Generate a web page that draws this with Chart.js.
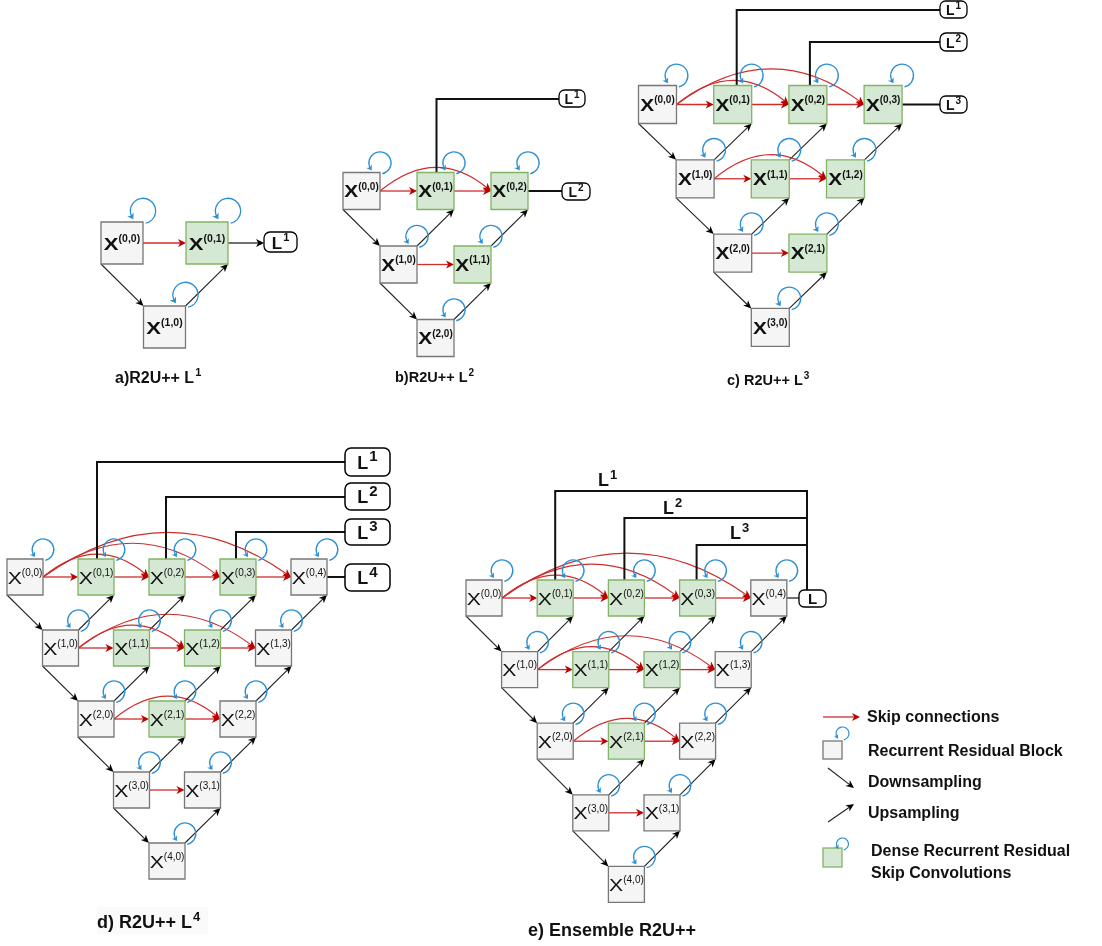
<!DOCTYPE html>
<html><head><meta charset="utf-8">
<script src="https://cdn.jsdelivr.net/npm/chart.js@4.4.1/dist/chart.umd.min.js"></script>
<style>html,body{margin:0;padding:0;background:#fff;}canvas{display:block;}</style>
</head><body>
<canvas id="c" width="1102" height="946"></canvas>
<script>
// ================= DATA =================
const diagramKeys = ['A','B','C','D','E'];
const captionTexts = ['a)R2U++ L', 'b)R2U++ L', 'c) R2U++ L', 'd) R2U++ L', 'e) Ensemble R2U++'];
const captionSups  = ['1', '2', '3', '4', ''];

// nodes X(i,j): plain recurrent residual blocks (gray) and dense skip convolutions (green)
const grayNodesA  = [[0,0],[1,0]];
const greenNodesA = [[0,1]];
const grayNodesB  = [[0,0],[1,0],[2,0]];
const greenNodesB = [[0,1],[0,2],[1,1]];
const grayNodesC  = [[0,0],[1,0],[2,0],[3,0]];
const greenNodesC = [[0,1],[0,2],[0,3],[1,1],[1,2],[2,1]];
const grayNodesD  = [[0,0],[1,0],[2,0],[3,0],[4,0],[0,4],[1,3],[2,2],[3,1]];
const greenNodesD = [[0,1],[0,2],[0,3],[1,1],[1,2],[2,1]];
const grayNodesE  = [[0,0],[1,0],[2,0],[3,0],[4,0],[0,4],[1,3],[2,2],[3,1]];
const greenNodesE = [[0,1],[0,2],[0,3],[1,1],[1,2],[2,1]];

// deep-supervision outputs (node -> L^k)
const outputNodesA = [[0,1]];               const outputSupsA = ['1'];
const outputNodesB = [[0,1],[0,2]];         const outputSupsB = ['1','2'];
const outputNodesC = [[0,1],[0,2],[0,3]];   const outputSupsC = ['1','2','3'];
const outputNodesD = [[0,1],[0,2],[0,3],[0,4]]; const outputSupsD = ['1','2','3','4'];
const outputNodesE = [[0,1],[0,2],[0,3]];   const outputSupsE = ['1','2','3'];
const ensembleNodeE = [0,4];                const ensembleLabelE = 'L';

const legendLabels = ['Skip connections','Recurrent Residual Block','Downsampling','Upsampling','Dense Recurrent Residual','Skip Convolutions'];

// ================= LAYOUT / STYLE =================
const FONT = '"Liberation Sans", Arial, Helvetica, sans-serif';
const COL = {
  grayFill:'#f5f5f5', grayStroke:'#777777', greenFill:'#d5e8d4', greenStroke:'#82b366',
  red:'#cc2e2e', redHead:'#bb0000', blue:'#2b8fd4', black:'#111111'
};
const layout = {
  A:{ox:122,   oy:243,   hx:42.5, ry:84,   b:42, fx:17, fs:10.5, w:'bold',   sx:1.3},
  B:{ox:361.5, oy:191,   hx:37,   ry:73.5, b:37, fx:16, fs:10,   w:'bold',   sx:1.3},
  C:{ox:657.5, oy:104.5, hx:37.6, ry:74.3, b:38, fx:16, fs:10,   w:'bold',   sx:1.3},
  D:{ox:25,    oy:577,   hx:35.5, ry:71,   b:36, fx:17, fs:10,   w:'normal', sx:1.25},
  E:{ox:484,   oy:598,   hx:35.6, ry:71.6, b:36, fx:17, fs:10,   w:'normal', sx:1.25}
};
const outLayout = {
  A:[{kind:'right', box:[264,232,33,20], f:17, fs:11, arrow:true, lw:1.2}],
  B:[{kind:'up', dx:1, level:99, box:[559,90,26,17], f:14, fs:10, lw:2},
     {kind:'right', box:[562,183,28,17], f:14, fs:10, lw:2}],
  C:[{kind:'up', dx:4, level:10, box:[940,1,27,17], f:14, fs:10, lw:2},
     {kind:'up', dx:2, level:42, box:[940,33,27,18], f:14, fs:10, lw:2},
     {kind:'right', box:[940,96,27,17], f:14, fs:10, lw:2}],
  D:[{kind:'up', dx:1,  level:462, box:[345,448,45,28], f:18, fs:15, lw:2},
     {kind:'up', dx:-1, level:497, box:[345,483,45,27], f:18, fs:15, lw:2},
     {kind:'up', dx:-2, level:532, box:[345,519,45,26], f:18, fs:15, lw:2},
     {kind:'right', box:[345,564,45,27], f:18, fs:15, lw:2}],
  E:[{kind:'bus', dx:0, level:491, label:[598,480]},
     {kind:'bus', dx:-2, level:518, label:[663,508]},
     {kind:'bus', dx:-1, level:545, label:[730,533]}]
};
const ensembleLayout = {busX:807, box:[799,590,27,17], f:15, fs:10, labelF:18, labelFs:13};
const captionLayout = [
  {x:115, y:377, f:16,   fs:11},
  {x:395, y:377, f:14.5, fs:10},
  {x:727, y:380, f:14.5, fs:10},
  {x:97,  y:922, f:18,   fs:13, bg:[97,907,111,27]},
  {x:528, y:930, f:18,   fs:13}
];
const legendLayout = {
  text:[[867,717],[868,751],[868,782],[868,813],[871,851],[871,873]], f:16,
  skip:[823,717,860,717], grayBox:[823,741,19,18], grayLoop:[842.5,733.5,6.5],
  down:[828,768,854,788], up:[828,822,854,804], greenBox:[823,848,19,19], greenLoop:[842.5,844,6]
};

const nodeSets = {
  A:{gray:grayNodesA, green:greenNodesA, out:outputNodesA, sups:outputSupsA},
  B:{gray:grayNodesB, green:greenNodesB, out:outputNodesB, sups:outputSupsB},
  C:{gray:grayNodesC, green:greenNodesC, out:outputNodesC, sups:outputSupsC},
  D:{gray:grayNodesD, green:greenNodesD, out:outputNodesD, sups:outputSupsD},
  E:{gray:grayNodesE, green:greenNodesE, out:outputNodesE, sups:outputSupsE}
};

function nodePos(key, i, j){ const L = layout[key]; return {x: L.ox + L.hx*(i+2*j), y: L.oy + L.ry*i}; }
function allNodes(key){ return nodeSets[key].gray.concat(nodeSets[key].green); }
function hasNode(key,i,j){ return allNodes(key).some(n=>n[0]===i&&n[1]===j); }

// ================= DATASETS =================
const datasets = [];
diagramKeys.forEach(k=>{
  const L = layout[k];
  [['gray',COL.grayFill,COL.grayStroke],['green',COL.greenFill,COL.greenStroke]].forEach(([t,f,s])=>{
    datasets.push({
      label: k+'-'+t,
      data: nodeSets[k][t].map(n=>({...nodePos(k,n[0],n[1]), i:n[0], j:n[1]})),
      pointStyle:'rect', pointRadius: L.b/Math.SQRT2, pointHoverRadius: L.b/Math.SQRT2,
      backgroundColor:f, borderColor:s, pointBorderWidth:1.3, showLine:false, clip:false
    });
  });
});

// ================= DRAW HELPERS =================
function head(ctx, x, y, ux, uy, len, hw, color){
  ctx.beginPath();
  ctx.moveTo(x,y);
  ctx.lineTo(x-ux*len-uy*hw, y-uy*len+ux*hw);
  ctx.lineTo(x-ux*len*0.72, y-uy*len*0.72);
  ctx.lineTo(x-ux*len+uy*hw, y-uy*len-ux*hw);
  ctx.closePath(); ctx.fillStyle=color; ctx.fill();
}
function arrow(ctx, x1,y1,x2,y2, color, lw, len, hw, hc){
  const dx=x2-x1, dy=y2-y1, d=Math.hypot(dx,dy), ux=dx/d, uy=dy/d;
  ctx.beginPath(); ctx.moveTo(x1,y1); ctx.lineTo(x2-ux*len*0.7, y2-uy*len*0.7);
  ctx.strokeStyle=color; ctx.lineWidth=lw; ctx.stroke();
  head(ctx,x2,y2,ux,uy,len,hw,hc||color);
}
function arcArrow(ctx, x1,y1,x2,y2,peak,color,lw,len,hw,hc){
  const cx=(x1+x2)/2, cy=y1-2*peak;
  const dx=x2-cx, dy=y2-cy, d=Math.hypot(dx,dy), ux=dx/d, uy=dy/d;
  ctx.beginPath(); ctx.moveTo(x1,y1); ctx.quadraticCurveTo(cx,cy,x2-ux*len*0.6,y2-uy*len*0.6);
  ctx.strokeStyle=color; ctx.lineWidth=lw; ctx.stroke();
  head(ctx,x2,y2,ux,uy,len,hw,hc);
}
function loop(ctx, x, y, r, lw){
  const a0=78*Math.PI/180, a1=148*Math.PI/180;
  ctx.beginPath(); ctx.arc(x,y,r,a0,a1,true);
  ctx.strokeStyle=COL.blue; ctx.lineWidth=lw; ctx.stroke();
  const ex=x+r*Math.cos(a1), ey=y+r*Math.sin(a1);
  const ux=Math.sin(a1), uy=-Math.cos(a1);
  head(ctx, ex+ux*2, ey+uy*2, ux, uy, Math.max(4,r*0.45), Math.max(2.5,r*0.3), COL.blue);
}
function supText(ctx, x, y, main, sup, f, fs, weight, align){
  ctx.font = `${weight} ${f}px ${FONT}`;
  const wm = ctx.measureText(main).width;
  ctx.font = `${weight} ${fs}px ${FONT}`;
  const ws = sup ? ctx.measureText(sup).width + 1 : 0;
  const x0 = align==='center' ? x-(wm+ws)/2 : x;
  const base = y + 0.36*f;
  ctx.fillStyle = COL.black; ctx.textBaseline='alphabetic'; ctx.textAlign='left';
  ctx.font = `${weight} ${f}px ${FONT}`; ctx.fillText(main, x0, base);
  if (sup){ ctx.font = `${weight} ${fs}px ${FONT}`; ctx.fillText(sup, x0+wm+1, base-0.42*f); }
}
function roundBox(ctx, x,y,w,h,r,lw){
  ctx.beginPath(); ctx.roundRect(x,y,w,h,r);
  ctx.fillStyle='#fff'; ctx.fill(); ctx.strokeStyle='#000'; ctx.lineWidth=lw; ctx.stroke();
}

// ================= PLUGIN =================
const diagramPlugin = {
  id:'diagram',
  beforeDatasetsDraw(chart){
    const ctx = chart.ctx, xs = chart.scales.x, ys = chart.scales.y;
    const P = (k,i,j)=>{ const p=nodePos(k,i,j); return {x:xs.getPixelForValue(p.x), y:ys.getPixelForValue(p.y)}; };
    ctx.save();
    diagramKeys.forEach(k=>{
      const L = layout[k], h = L.b/2;
      const nodes = allNodes(k);
      nodes.forEach(([i,j])=>{
        const p = P(k,i,j);
        if (j===0 && hasNode(k,i+1,0)){
          const q = P(k,i+1,0);
          arrow(ctx, p.x-h, p.y+h, q.x-h, q.y-h, '#222', 1.1, 8, 3.6, '#000');
        }
        if (j>=1){
          if (hasNode(k,i+1,j-1)){
            const q = P(k,i+1,j-1);
            arrow(ctx, q.x+h, q.y-h, p.x+h, p.y+h, '#222', 1.1, 8, 3.6, '#000');
          }
          const s = P(k,i,j-1);
          arrow(ctx, s.x+h, s.y, p.x-h, p.y, COL.red, 1.3, 8, 4, COL.redHead);
          if (j>=2){
            const s0 = P(k,i,0);
            arcArrow(ctx, s0.x+h, s0.y, p.x-h, p.y, 0.31*L.hx*j, COL.red, 1.2, 8, 4, COL.redHead);
          }
        }
      });
      const outs = nodeSets[k].out;
      outLayout[k].forEach((o,idx)=>{
        const n = outs[idx], p = P(k,n[0],n[1]);
        ctx.strokeStyle='#111'; ctx.lineWidth = o.lw||2;
        if (o.kind==='right'){
          const bx=xs.getPixelForValue(o.box[0]);
          if (o.arrow){ arrow(ctx, p.x+h, p.y, bx, p.y, '#111', o.lw, 8, 4, '#000'); }
          else { ctx.beginPath(); ctx.moveTo(p.x+h,p.y); ctx.lineTo(bx,p.y); ctx.stroke(); }
        } else if (o.kind==='up'){
          const bx=xs.getPixelForValue(o.box[0]), ly=ys.getPixelForValue(o.level);
          ctx.beginPath(); ctx.moveTo(p.x+o.dx, p.y-h); ctx.lineTo(p.x+o.dx, ly); ctx.lineTo(bx, ly); ctx.stroke();
        } else if (o.kind==='bus'){
          const bx=xs.getPixelForValue(ensembleLayout.busX), ly=ys.getPixelForValue(o.level);
          ctx.beginPath(); ctx.moveTo(p.x+o.dx, p.y-h); ctx.lineTo(p.x+o.dx, ly); ctx.lineTo(bx, ly); ctx.stroke();
        }
      });
      if (k==='E'){
        const E = ensembleLayout;
        const bx=xs.getPixelForValue(E.busX);
        ctx.strokeStyle='#111'; ctx.lineWidth=2;
        ctx.beginPath(); ctx.moveTo(bx, ys.getPixelForValue(outLayout.E[0].level)-1); ctx.lineTo(bx, ys.getPixelForValue(E.box[1])); ctx.stroke();
        const p = P('E', ensembleNodeE[0], ensembleNodeE[1]);
        ctx.lineWidth=1.2; ctx.beginPath(); ctx.moveTo(p.x+h, p.y); ctx.lineTo(xs.getPixelForValue(E.box[0]), p.y); ctx.stroke();
      }
    });
    ctx.restore();
  },
  afterDatasetsDraw(chart){
    const ctx = chart.ctx, xs = chart.scales.x, ys = chart.scales.y;
    ctx.save();
    chart.data.datasets.forEach((ds,di)=>{
      const k = ds.label.split('-')[0], L = layout[k], h=L.b/2;
      const meta = chart.getDatasetMeta(di);
      meta.data.forEach((pt,pi)=>{
        const d = ds.data[pi];
        ctx.font = `${L.w} ${L.fx}px ${FONT}`;
        const wx = ctx.measureText('X').width*L.sx;
        const sup = `(${d.i},${d.j})`;
        ctx.font = `${L.w} ${L.fs}px ${FONT}`;
        const ws = ctx.measureText(sup).width;
        const x0 = pt.x-(wx+ws)/2, base = pt.y+0.36*L.fx+0.5;
        ctx.fillStyle = COL.black; ctx.textAlign='left'; ctx.textBaseline='alphabetic';
        ctx.save(); ctx.translate(x0, base); ctx.scale(L.sx,1);
        ctx.font = `${L.w} ${L.fx}px ${FONT}`; ctx.fillText('X',0,0); ctx.restore();
        ctx.font = `${L.w} ${L.fs}px ${FONT}`; ctx.fillText(sup, x0+wx, base-0.46*L.fx);
        const r = L.b*0.3;
        loop(ctx, pt.x+h, pt.y-h-r+1.5, r, 1.3);
      });
    });
    diagramKeys.forEach(k=>{
      outLayout[k].forEach((o,idx)=>{
        if (o.kind==='bus'){
          supText(ctx, xs.getPixelForValue(o.label[0]), ys.getPixelForValue(o.label[1]), 'L', nodeSets[k].sups[idx], ensembleLayout.labelF, ensembleLayout.labelFs, 'bold', 'left');
          return;
        }
        const [bx,by,bw,bh] = o.box;
        const X=xs.getPixelForValue(bx), Y=ys.getPixelForValue(by);
        roundBox(ctx, X, Y, bw, bh, Math.min(6,bh/3), k==='D'?1.5:1.3);
        supText(ctx, X+bw/2, Y+bh/2+0.5, 'L', nodeSets[k].sups[idx], o.f, o.fs, 'bold', 'center');
      });
    });
    { const E=ensembleLayout, [bx,by,bw,bh]=E.box;
      const X=xs.getPixelForValue(bx), Y=ys.getPixelForValue(by);
      roundBox(ctx, X, Y, bw, bh, 5, 1.3);
      supText(ctx, X+bw/2, Y+bh/2+0.5, ensembleLabelE, '', E.f, E.fs, 'bold', 'center'); }
    captionTexts.forEach((t,idx)=>{
      const c = captionLayout[idx];
      if (c.bg){ ctx.fillStyle='#fafafa'; ctx.fillRect(xs.getPixelForValue(c.bg[0]), ys.getPixelForValue(c.bg[1]), c.bg[2], c.bg[3]); }
      supText(ctx, xs.getPixelForValue(c.x), ys.getPixelForValue(c.y), t, captionSups[idx], c.f, c.fs, 'bold', 'left');
    });
    const G = legendLayout, X=v=>xs.getPixelForValue(v), Y=v=>ys.getPixelForValue(v);
    arrow(ctx, X(G.skip[0]),Y(G.skip[1]),X(G.skip[2]),Y(G.skip[3]), COL.red, 1.3, 8, 4, COL.redHead);
    ctx.fillStyle=COL.grayFill; ctx.strokeStyle=COL.grayStroke; ctx.lineWidth=1.3;
    ctx.fillRect(X(G.grayBox[0]),Y(G.grayBox[1]),G.grayBox[2],G.grayBox[3]);
    ctx.strokeRect(X(G.grayBox[0]),Y(G.grayBox[1]),G.grayBox[2],G.grayBox[3]);
    loop(ctx, X(G.grayLoop[0]), Y(G.grayLoop[1]), G.grayLoop[2], 1.2);
    arrow(ctx, X(G.down[0]),Y(G.down[1]),X(G.down[2]),Y(G.down[3]), '#222', 1.1, 8, 3.6, '#000');
    arrow(ctx, X(G.up[0]),Y(G.up[1]),X(G.up[2]),Y(G.up[3]), '#222', 1.1, 8, 3.6, '#000');
    ctx.fillStyle=COL.greenFill; ctx.strokeStyle=COL.greenStroke; ctx.lineWidth=1.3;
    ctx.fillRect(X(G.greenBox[0]),Y(G.greenBox[1]),G.greenBox[2],G.greenBox[3]);
    ctx.strokeRect(X(G.greenBox[0]),Y(G.greenBox[1]),G.greenBox[2],G.greenBox[3]);
    loop(ctx, X(G.greenLoop[0]), Y(G.greenLoop[1]), G.greenLoop[2], 1.2);
    legendLabels.forEach((t,idx)=>{
      ctx.fillStyle=COL.black; ctx.font=`bold ${G.f}px ${FONT}`; ctx.textAlign='left'; ctx.textBaseline='middle';
      ctx.fillText(t, X(G.text[idx][0]), Y(G.text[idx][1])+1);
    });
    ctx.restore();
  }
};

new Chart(document.getElementById('c'), {
  type:'scatter',
  data:{datasets},
  options:{
    responsive:false, animation:false, devicePixelRatio:1, events:[],
    layout:{padding:0, autoPadding:false},
    plugins:{legend:{display:false}, tooltip:{enabled:false}},
    scales:{
      x:{type:'linear', min:0, max:1102, display:false},
      y:{type:'linear', min:0, max:946, reverse:true, display:false}
    },
    elements:{point:{hitRadius:0}}
  },
  plugins:[diagramPlugin]
});
</script>
</body></html>
